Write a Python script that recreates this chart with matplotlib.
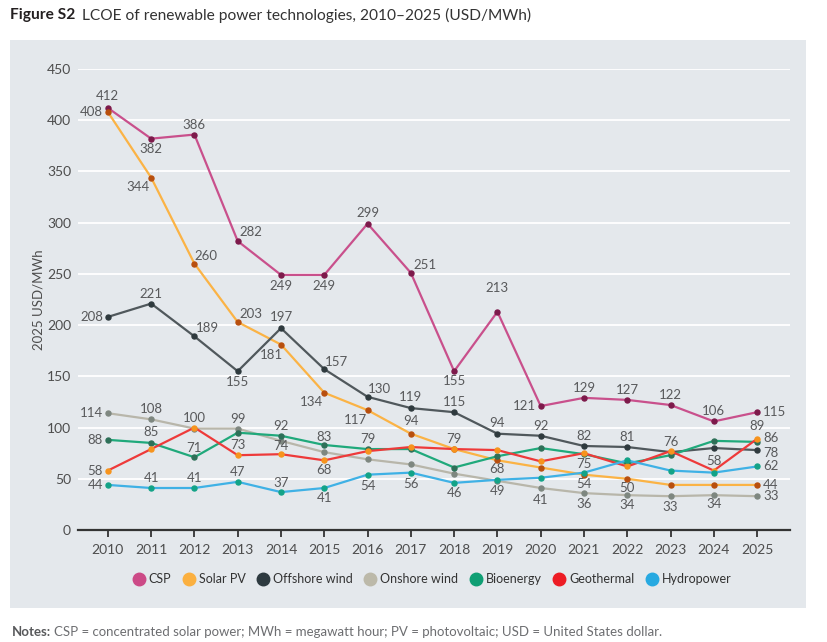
import matplotlib
matplotlib.use("Agg")
import matplotlib.pyplot as plt
from matplotlib.lines import Line2D
from matplotlib.patches import Rectangle
from matplotlib import font_manager

years = list(range(2010, 2026))

series_names = ["CSP", "Solar PV", "Offshore wind", "Onshore wind",
                "Bioenergy", "Geothermal", "Hydropower"]

csp = [412, 382, 386, 282, 249, 249, 299, 251, 155, 213, 121, 129, 127, 122, 106, 115]
solar_pv = [408, 344, 260, 203, 181, 134, 117, 94, 79, 68, 61, 54, 50, 44, 44, 44]
offshore_wind = [208, 221, 189, 155, 197, 157, 130, 119, 115, 94, 92, 82, 81, 76, 80, 78]
onshore_wind = [114, 108, 99, 99, 87, 76, 69, 64, 55, 48, 41, 36, 34, 33, 34, 33]
bioenergy = [88, 85, 71, 95, 92, 83, 79, 79, 61, 72, 80, 74, 65, 73, 87, 86]
geothermal = [58, 79, 100, 73, 74, 68, 77, 81, 79, 78, 67, 75, 62, 77, 58, 89]
hydropower = [44, 41, 41, 47, 37, 41, 54, 56, 46, 49, 51, 56, 68, 58, 56, 62]

yticks = [0, 50, 100, 150, 200, 250, 300, 350, 400, 450]

# style
names = {f.name for f in font_manager.fontManager.ttflist}
FONT = "Lato" if "Lato" in names else "DejaVu Sans"
plt.rcParams["font.family"] = [FONT, "DejaVu Sans"]

legend_colors = ["#cc4a87", "#fbb040", "#2e3a40", "#bcb9a9", "#0f9f74", "#ed1c24", "#27a9e1"]
line_colors = ["#c9508c", "#fbb345", "#50585c", "#b8b6aa", "#20a97b", "#ee3a3a", "#3fb1e5"]
marker_colors = ["#7d1a4b", "#b84f0e", "#2f3a3e", "#7e8780", "#2e7058", "#f7941d", "#13a387"]

L = (-5, 0, "right")
R = (6, 0, "left")

label_specs = [
    {0: (0, 12), 1: (0, -10), 2: (0, 10), 3: (13, 9), 4: (0, -11), 5: (0, -11),
     6: (0, 11), 7: (14, 8), 8: (0, -10), 9: (0, 24), 10: L, 11: (0, 10),
     12: (0, 10), 13: (0, 10), 14: (0, 10), 15: R},
    {0: L, 1: (-13, -9), 2: (12, 8), 3: (13, 8), 4: (-10, -10), 5: (-13, -9),
     6: (-12, -10), 7: (0, 13), 8: (0, 10), 9: (0, -9), 11: (0, -9), 12: (0, -9), 15: R},
    {0: L, 1: (0, 10), 2: (13, 8), 3: (0, -11), 4: (0, 11), 5: (12, 7), 6: (12, 8),
     7: (0, 11), 8: (0, 10), 9: (0, 11), 10: (0, 10), 11: (0, 10), 12: (0, 10),
     13: (0, 10), 15: (6, -3, "left")},
    {0: L, 1: (0, 10), 3: (0, 10), 10: (0, -12), 11: (0, -11), 12: (0, -10),
     13: (0, -11), 14: (0, -9), 15: R},
    {0: L, 1: (0, 11), 2: (0, 9), 4: (0, 10), 5: (0, 8), 6: (0, 10), 15: (6, 4, "left")},
    {0: L, 2: (0, 10), 3: (0, 10), 4: (0, 8), 5: (0, -10), 11: (0, -11), 14: (0, 10),
     15: (0, 13)},
    {0: L, 1: (0, 10), 2: (0, 10), 3: (0, 10), 4: (0, 9), 5: (0, -10), 6: (0, -11),
     7: (0, -11), 8: (0, -10), 9: (0, -11), 15: R},
]

all_series = [csp, solar_pv, offshore_wind, onshore_wind, bioenergy, geothermal, hydropower]

W, H = 827, 642
fig = plt.figure(figsize=(W / 100, H / 100), dpi=100)
fig.patch.set_facecolor("white")

panel_color = "#e4e8ec"
fig.add_artist(Rectangle((10 / W, 1 - 608 / H), 796 / W, 568 / H,
                         transform=fig.transFigure, facecolor=panel_color,
                         edgecolor="none", zorder=0))

ax = fig.add_axes([78 / W, 1 - 530 / H, (790 - 78) / W, (530 - 69) / H])
ax.set_facecolor(panel_color)
ax.set_xlim(2009.31, 2025.76)
ax.set_ylim(0, 450)
ax.set_yticks(yticks)
ax.set_xticks(years)
ax.tick_params(axis="y", length=0, pad=5, labelsize=10, labelcolor="#4d4d4d")
ax.tick_params(axis="x", length=5, width=1.3, color="#333333", pad=5,
               labelsize=10, labelcolor="#4d4d4d", direction="out")
for s in ["top", "right", "left"]:
    ax.spines[s].set_visible(False)
ax.spines["bottom"].set_color("#333333")
ax.spines["bottom"].set_linewidth(1.6)
ax.grid(axis="y", color="white", linewidth=1.3)
ax.set_axisbelow(True)
ax.set_ylabel("2025 USD/MWh", fontsize=9.5, color="#4d4d4d", labelpad=2)

order = [3, 6, 4, 5, 1, 2, 0]
for i in order:
    vals = all_series[i]
    ax.plot(years, vals, color=line_colors[i], linewidth=1.6, zorder=3 + i * 0.1,
            marker="o", markersize=3.6, markerfacecolor=marker_colors[i],
            markeredgecolor=marker_colors[i], clip_on=False)

for i, vals in enumerate(all_series):
    for idx, spec in label_specs[i].items():
        dx, dy = spec[0], spec[1]
        ha = spec[2] if len(spec) > 2 else "center"
        ax.annotate(str(vals[idx]), (years[idx], vals[idx]), xytext=(dx, dy),
                    textcoords="offset pixels", ha=ha, va="center",
                    fontsize=9.5, color="#58595b", zorder=10)

handles = [Line2D([], [], linestyle="none", marker="o", markersize=9,
                  markerfacecolor=c, markeredgecolor=c) for c in legend_colors]
fig.legend(handles, series_names, loc="center", bbox_to_anchor=(432 / W, 1 - 579 / H),
           ncol=7, frameon=False, fontsize=9, handletextpad=0.3,
           columnspacing=0.9, handlelength=1.0, labelcolor="#333333")

fig.text(10 / W, 1 - 15 / H, "Figure S2", fontsize=11.2, fontweight="bold",
         color="#231f20", ha="left", va="center")
fig.text(82 / W, 1 - 15 / H, "LCOE of renewable power technologies, 2010–2025 (USD/MWh)",
         fontsize=11.2, color="#333333", ha="left", va="center")

fig.text(12 / W, 1 - 632 / H, "Notes:", fontsize=9.5, fontweight="bold",
         color="#58595b", ha="left", va="center")
fig.text(54 / W, 1 - 632 / H,
         "CSP = concentrated solar power; MWh = megawatt hour; PV = photovoltaic; USD = United States dollar.",
         fontsize=9.5, color="#6d6e71", ha="left", va="center")

fig.savefig("out.png", dpi=100, facecolor="white")
